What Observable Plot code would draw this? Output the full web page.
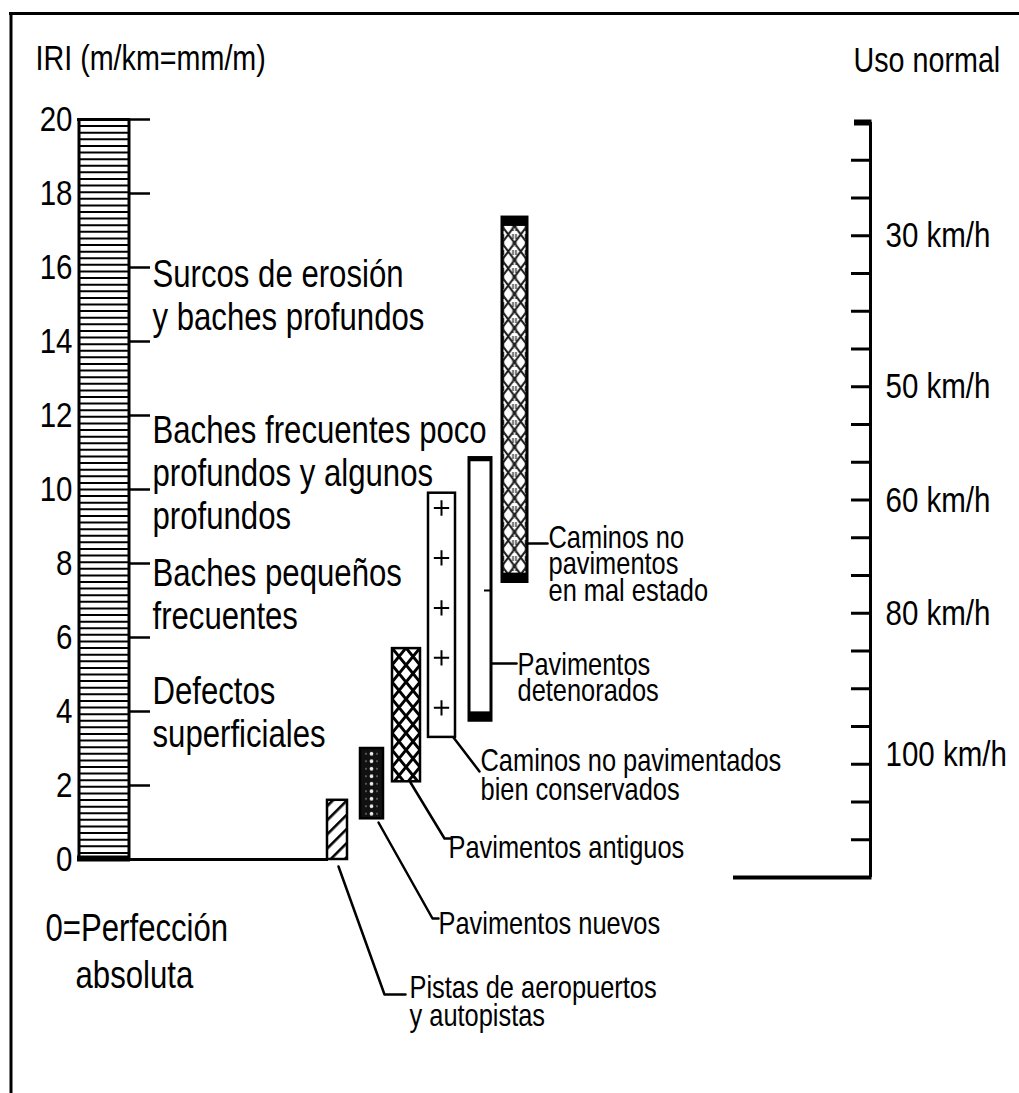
<!DOCTYPE html>
<html>
<head>
<meta charset="utf-8">
<script src="https://cdn.jsdelivr.net/npm/d3@7"></script>
<script src="https://cdn.jsdelivr.net/npm/@observablehq/plot@0.6"></script>
<style>
  html, body { margin: 0; padding: 0; background: #fff; }
  #wrap { position: relative; width: 1019px; height: 1093px; overflow: hidden; background: #fff; }
  #wrap svg { position: absolute; left: 0; top: 0; }
</style>
</head>
<body>
<div id="wrap"></div>
<script>
// ---------------- DATA ----------------
const iriTitle = "IRI (m/km=mm/m)";
const iriTicks = [0, 2, 4, 6, 8, 10, 12, 14, 16, 18, 20];
const roughnessLabels = [
  ["Surcos de erosión", "y baches profundos"],
  ["Baches frecuentes poco", "profundos y algunos", "profundos"],
  ["Baches pequeños", "frecuentes"],
  ["Defectos", "superficiales"]
];
const perfectionLabel = ["0=Perfección", "absoluta"];

const categories = [
  "Pistas de aeropuertos\ny autopistas",
  "Pavimentos nuevos",
  "Pavimentos antiguos",
  "Caminos no pavimentados\nbien conservados",
  "Pavimentos\ndetenorados",
  "Caminos no\npavimentos\nen mal estado"
];
const iriLow  = [0.0, 1.1, 2.1, 3.3, 3.75, 7.5];
const iriHigh = [1.6, 3.0, 5.7, 9.9, 10.85, 17.35];

const speedTitle = "Uso normal";
const speedLabels = ["30 km/h", "50 km/h", "60 km/h", "80 km/h", "100 km/h"];
const speedLabelAt = [17, 13, 10, 7, 3.25];   // position on the 20-step speed scale
const speedSteps = 20;

// ---------------- LAYOUT ----------------
const W = 1019, H = 1093;
const FONT = "'Liberation Sans', Arial, sans-serif";
const NARROW = 0.82;                              // horizontal condensing of the lettering
const Y = d3.scaleLinear([0, 20], [859, 119]);   // IRI scale geometry (same as Plot's)
const py = p => Y.invert(p);                      // pixel row -> IRI units for annotations

const boxX = [[327, 347], [360, 383], [392, 420], [428, 455], [469, 491], [502, 527]];
const boxFill = ["url(#hatch)", "url(#dots)", "url(#cross)", "white", "white", "url(#chain)"];
const boxStroke = [2.5, 2.5, 2.5, 2.5, 3, 3];

const leaders = [
  [[338, 866], [384, 994], [405, 994]],
  [[378, 822], [432, 918], [438, 918]],
  [[410, 782], [444, 838], [451, 838]],
  [[453, 737], [479, 771]],
  [[491, 663], [516, 663]],
  [[527, 543], [547, 543]]
];
const catLabelX = [409, 438, 448, 480, 517, 548];
const catLabelBase = [997, 933, 857, 770, 674, 547];
const catLabelStep = [28, 28, 28, 29, 26, 26.5];

const roughX = 152;
const roughBase = [286, 442, 585, 703];
const roughStep = 43;

// annotation rows
const roughRows = roughnessLabels.flatMap((lines, i) =>
  lines.map((t, j) => ({t, y: py(roughBase[i] + j * roughStep)})));
const catRows = categories.flatMap((c, i) =>
  c.split("\n").map((t, j) => ({t, x: catLabelX[i], y: py(catLabelBase[i] + j * catLabelStep[i])})));
const leaderPts = leaders.flatMap((pts, k) => pts.map(([x, y]) => ({k, x, y: py(y)})));

// decorative pattern lines of the reference column
const stripes = d3.range(113).map(i => i * 20 / 112);
const plusAt = d3.range(5).map(i => iriLow[3] + 0.8 + i * 1.35);

const catMarks = categories.map((c, i) =>
  Plot.rect([i], {x1: boxX[i][0], x2: boxX[i][1], y1: iriLow[i], y2: iriHigh[i],
    fill: boxFill[i], stroke: "black", strokeWidth: boxStroke[i]}));

const main = Plot.plot({
  width: W, height: H,
  marginTop: 119, marginBottom: H - 859, marginLeft: 0, marginRight: 0,
  x: {type: "linear", domain: [0, W], axis: null},
  y: {domain: [0, 20], axis: null},
  style: {fontFamily: FONT, background: "white", color: "black", overflow: "visible"},
  marks: [
    // frame
    Plot.ruleY([py(13)], {x1: 9, x2: W, stroke: "black", strokeWidth: 3}),
    Plot.ruleX([10.5], {y1: py(12), y2: py(H), stroke: "black", strokeWidth: 3}),
    // titles
    Plot.text([iriTitle], {x: 35, y: py(69), text: d => d, textAnchor: "start", lineAnchor: "bottom", fontSize: 35, fill: "black"}),
    Plot.text([speedTitle], {x: 853, y: py(71), text: d => d, textAnchor: "start", lineAnchor: "bottom", fontSize: 35, fill: "black"}),
    // IRI reference column
    Plot.rect([0], {x1: 77, x2: 130, y1: 0, y2: 20, fill: "white"}),
    Plot.ruleY(stripes, {x1: 78, x2: 129, stroke: "black", strokeWidth: 2}),
    Plot.ruleX([78.5, 128.5], {y1: 0, y2: 20, stroke: "black", strokeWidth: 3}),
    Plot.ruleY([0], {x1: 77, x2: 130, stroke: "black", strokeWidth: 6, dy: -1}),
    Plot.ruleY([20], {x1: 77, x2: 130, stroke: "black", strokeWidth: 3}),
    Plot.ruleY([0], {x1: 128, x2: 328, stroke: "black", strokeWidth: 3}),
    Plot.ruleY(iriTicks.filter(d => d > 0), {x1: 129, x2: 150, stroke: "black", strokeWidth: 2.5}),
    Plot.axisY({ticks: iriTicks, anchor: "left", tickSize: 0, tickPadding: 0, dx: 72, fontSize: 36, label: null, fill: "black"}),
    // roughness descriptions
    Plot.text(roughRows, {x: roughX, y: "y", text: "t", textAnchor: "start", lineAnchor: "bottom", fontSize: 38, fill: "black"}),
    Plot.text(perfectionLabel, {x: (d, i) => i ? 75 : 45, y: (d, i) => py(940 + i * 47), text: d => d, textAnchor: "start", lineAnchor: "bottom", fontSize: 38, fill: "black"}),
    // category ranges
    ...catMarks,
    Plot.rect([4], {x1: boxX[4][0], x2: boxX[4][1], y1: iriLow[4], y2: iriLow[4] + 0.24, fill: "black"}),
    Plot.rect([4], {x1: boxX[4][0], x2: boxX[4][1], y1: iriHigh[4] - 0.1, y2: iriHigh[4], fill: "black"}),
    Plot.ruleY([py(590)], {x1: 484, x2: 491, stroke: "black", strokeWidth: 2}),
    Plot.rect([5], {x1: boxX[5][0], x2: boxX[5][1], y1: iriLow[5], y2: iriLow[5] + 0.24, fill: "black"}),
    Plot.rect([5], {x1: boxX[5][0], x2: boxX[5][1], y1: iriHigh[5] - 0.24, y2: iriHigh[5], fill: "black"}),
    Plot.dot(plusAt, {x: 441, y: d => d, symbol: "plus", r: 5, stroke: "black", strokeWidth: 2}),
    // leaders and labels
    Plot.line(leaderPts, {x: "x", y: "y", z: "k", stroke: "black", strokeWidth: 2.5, curve: "linear"}),
    Plot.text(catRows, {x: "x", y: "y", text: "t", textAnchor: "start", lineAnchor: "bottom", fontSize: 31, fill: "black"})
  ]
});

// fill patterns
const defs = d3.select(main).insert("defs", ":first-child");
const hatch = defs.append("pattern").attr("id", "hatch").attr("patternUnits", "userSpaceOnUse")
  .attr("width", 10).attr("height", 10).attr("patternTransform", "rotate(45)");
hatch.append("rect").attr("width", 10).attr("height", 10).attr("fill", "white");
hatch.append("rect").attr("width", 2.6).attr("height", 10).attr("fill", "black");

const dots = defs.append("pattern").attr("id", "dots").attr("patternUnits", "userSpaceOnUse")
  .attr("x", 360).attr("y", 0).attr("width", 23).attr("height", 7.5);
dots.append("rect").attr("width", 23).attr("height", 7.5).attr("fill", "#111");
dots.append("circle").attr("cx", 11.5).attr("cy", 3.75).attr("r", 1.9).attr("fill", "#eee");
dots.append("circle").attr("cx", 6).attr("cy", 3.75).attr("r", 0.9).attr("fill", "#777");
dots.append("circle").attr("cx", 17).attr("cy", 3.75).attr("r", 0.9).attr("fill", "#777");

const cross = defs.append("pattern").attr("id", "cross").attr("patternUnits", "userSpaceOnUse")
  .attr("x", 392).attr("y", 648).attr("width", 14).attr("height", 17);
cross.append("rect").attr("width", 14).attr("height", 17).attr("fill", "white");
cross.append("path").attr("d", "M0,0L14,17M14,0L0,17").attr("stroke", "black").attr("stroke-width", 3);

const chain = defs.append("pattern").attr("id", "chain").attr("patternUnits", "userSpaceOnUse")
  .attr("x", 502).attr("y", 226).attr("width", 12.5).attr("height", 34);
chain.append("rect").attr("width", 12.5).attr("height", 34).attr("fill", "white");
chain.append("path").attr("d", "M0,0L12.5,17L0,34M12.5,0L0,17L12.5,34").attr("stroke", "#1a1a1a").attr("stroke-width", 2).attr("fill", "none");
chain.append("path").attr("d", "M1.5,0V34M11,0V34").attr("stroke", "#333").attr("stroke-width", 1.4).attr("stroke-dasharray", "5,3");

// speed scale (own scale, overlaid)
const speed = Plot.plot({
  width: W, height: H,
  marginTop: 122, marginBottom: H - 877, marginLeft: 0, marginRight: 0,
  x: {type: "linear", domain: [0, W], axis: null},
  y: {domain: [0, speedSteps], axis: null},
  style: {fontFamily: FONT, background: "transparent", color: "black", overflow: "visible"},
  marks: [
    Plot.ruleX([870], {y1: 0, y2: speedSteps, stroke: "black", strokeWidth: 3}),
    Plot.ruleY(d3.range(1, speedSteps), {x1: 851, x2: 870, stroke: "black", strokeWidth: 3}),
    Plot.ruleY([0], {x1: 733, x2: 871.5, stroke: "black", strokeWidth: 4}),
    Plot.ruleY([speedSteps], {x1: 854, x2: 871.5, stroke: "black", strokeWidth: 6}),
    Plot.text(speedLabels, {x: 885, y: (d, i) => speedLabelAt[i], text: d => d, textAnchor: "start", lineAnchor: "middle", fontSize: 36, fill: "black"})
  ]
});

// condense lettering horizontally about each text's own anchor (narrow sans look)
function condense(svg) {
  d3.select(svg).selectAll("text").each(function () {
    const x = +(this.getAttribute("x") || 0);
    const t = this.getAttribute("transform") || "";
    this.setAttribute("transform", `${t} translate(${x},0) scale(${NARROW},1) translate(${-x},0)`);
  });
}
condense(main);
condense(speed);

const wrap = document.getElementById("wrap");
wrap.appendChild(main);
wrap.appendChild(speed);
</script>
</body>
</html>
